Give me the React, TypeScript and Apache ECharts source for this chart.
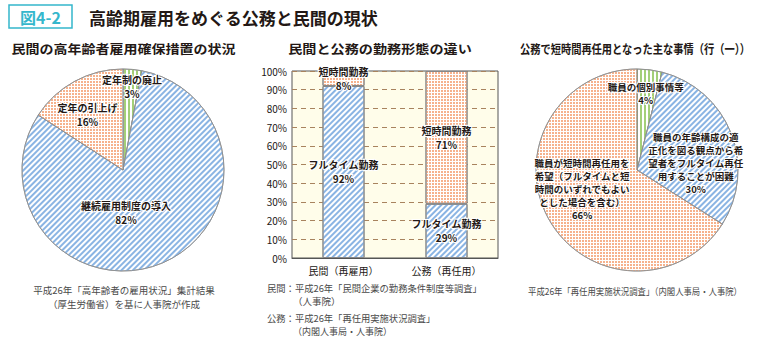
import React, { useEffect, useRef } from 'react';
import * as echarts from 'echarts';

// ---- data ----
const leftNames = ['定年制の廃止', '継続雇用制度の導入', '定年の引上げ'];
const leftValues = [3, 82, 16];

const barCategories = ['民間（再雇用）', '公務（再任用）'];
const fullTimeName = 'フルタイム勤務';
const shortTimeName = '短時間勤務';
const fullTimeValues = [92, 29];
const shortTimeValues = [8, 71];

const rightNames = [
  '職員の個別事情等',
  '職員の年齢構成の適\n正化を図る観点から希\n望者をフルタイム再任\n用することが困難',
  '職員が短時間再任用を\n希望（フルタイムと短\n時間のいずれでもよい\nとした場合を含む）',
];
const rightValues = [4, 30, 66];

const figNo = '図4-2';
const mainTitle = '高齢期雇用をめぐる公務と民間の現状';
const subTitles = ['民間の高年齢者雇用確保措置の状況', '民間と公務の勤務形態の違い', '公務で短時間再任用となった主な事情（行（一））'];
const leftNotes = ['平成26年「高年齢者の雇用状況」集計結果', '（厚生労働省）を基に人事院が作成'];
const midNotes = ['民間：平成26年「民間企業の勤務条件制度等調査」', '（人事院）', '公務：平成26年「再任用実施状況調査」', '（内閣人事局・人事院）'];
const rightNote = '平成26年「再任用実施状況調査」（内閣人事局・人事院）';

// ---- styles ----
const FONT = '"Noto Sans CJK JP", "Noto Sans", sans-serif';
const TEXT = '#231815';
const TEAL = '#35b7cc';
const blueDecal = { symbol: 'rect', symbolSize: 1, color: '#8ab4e3', dashArrayX: [1, 0], dashArrayY: [2, 2], rotation: -Math.PI / 4 };
const orangeDecal = { symbol: 'rect', symbolSize: 1, color: '#f6b28d', dashArrayX: [2, 1], dashArrayY: [2, 1], rotation: 0 };
const greenDecal = { symbol: 'rect', symbolSize: 1, color: '#a3cf78', dashArrayX: [2, 1.5], dashArrayY: [1, 0], rotation: 0 };

const leftDecals = [greenDecal, blueDecal, orangeDecal];
const rightDecals = [greenDecal, blueDecal, orangeDecal];
const leftOffsets = [[4, -30], [-18, -7], [-10, -8]];
const rightOffsets = [[2, -23], [9, 13], [-8, -7]];

const labelCommon = {
  fontFamily: FONT,
  fontSize: 10,
  fontWeight: 'bold',
  color: TEXT,
  textBorderColor: '#fff',
  textBorderWidth: 2,
};

function pieData(names: string[], values: number[], decals: any[]) {
  return names.map((n, i) => ({
    name: n,
    value: values[i],
    itemStyle: { color: '#fff', decal: decals[i] },
  }));
}

function subText(text: string, x: number, scaleX: number) {
  return {
    type: 'text',
    x,
    y: 49,
    scaleX,
    style: { text, fontFamily: FONT, fontSize: 12.5, fontWeight: 'bold', fill: TEXT, align: 'center', verticalAlign: 'middle' },
  };
}

function note(text: string, x: number, y: number, align: string, scaleX = 1) {
  return {
    type: 'text',
    x,
    y,
    scaleX,
    style: { text, fontFamily: FONT, fontSize: 9.5, fill: '#4a4a4a', align, verticalAlign: 'middle' },
  };
}

export default function App() {
  const ref = useRef<HTMLDivElement>(null);
  useEffect(() => {
    document.body.style.margin = '0';
    const chart = echarts.init(ref.current!, null, { renderer: 'svg' });
    const option: any = {
      animation: false,
      backgroundColor: '#fff',
      grid: {
        left: 292, right: 262, top: 71, bottom: 87,
        show: true, backgroundColor: '#fffdea', borderColor: '#555', borderWidth: 1,
      },
      xAxis: {
        type: 'category',
        data: barCategories,
        axisTick: { show: false },
        axisLine: { lineStyle: { color: '#555' } },
        axisLabel: { fontFamily: FONT, fontSize: 10, color: TEXT, margin: 7 },
      },
      yAxis: {
        type: 'value',
        min: 0, max: 100, interval: 10,
        axisLine: { show: false },
        axisTick: { show: false },
        axisLabel: { formatter: '{value}%', fontFamily: FONT, fontSize: 10, color: TEXT, margin: 5 },
        splitLine: { lineStyle: { color: '#a8835e', type: [5, 4], width: 1 } },
      },
      series: [
        {
          type: 'pie',
          center: [123, 170],
          radius: 101,
          startAngle: 90,
          clockwise: true,
          silent: true,
          data: pieData(leftNames, leftValues, leftDecals),
          itemStyle: { borderColor: '#8c8c8c', borderWidth: 0.8 },
          label: {
            position: 'inside',
            formatter: (p: any) => `${p.name}\n${p.value}%`,
            lineHeight: 14,
            ...labelCommon,
          },
          labelLayout: (p: any) => ({ dx: leftOffsets[p.dataIndex][0], dy: leftOffsets[p.dataIndex][1] }),
        },
        {
          type: 'bar',
          name: fullTimeName,
          stack: 'a',
          barWidth: 42,
          data: fullTimeValues,
          silent: true,
          itemStyle: { color: '#fff', borderColor: '#888', borderWidth: 1, decal: blueDecal },
          label: {
            show: true,
            position: 'inside',
            formatter: (p: any) => `${p.seriesName}\n${p.value}%`,
            lineHeight: 14,
            ...labelCommon,
          },
        },
        {
          type: 'bar',
          name: shortTimeName,
          stack: 'a',
          barWidth: 42,
          data: shortTimeValues,
          silent: true,
          itemStyle: { color: '#fff', borderColor: '#888', borderWidth: 1, decal: orangeDecal },
          label: {
            show: true,
            position: 'inside',
            formatter: (p: any) => `${p.seriesName}\n${p.value}%`,
            lineHeight: 13.5,
            ...labelCommon,
          },
        },
        {
          type: 'pie',
          center: [637, 170],
          radius: 101,
          startAngle: 90,
          clockwise: true,
          silent: true,
          data: pieData(rightNames, rightValues, rightDecals),
          itemStyle: { borderColor: '#8c8c8c', borderWidth: 0.8 },
          label: {
            position: 'inside',
            formatter: (p: any) => `${p.name}\n${p.value}%`,
            lineHeight: 13,
            ...labelCommon,
            fontSize: 9.5,
          },
          labelLayout: (p: any) => ({ dx: rightOffsets[p.dataIndex][0], dy: rightOffsets[p.dataIndex][1] }),
        },
      ],
      graphic: [
        { type: 'rect', shape: { x: 9, y: 5, width: 63, height: 23 }, style: { fill: 'none', stroke: TEAL, lineWidth: 1.5 } },
        { type: 'text', x: 40.5, y: 17, style: { text: figNo, fontFamily: FONT, fontSize: 16, fontWeight: 'bold', fill: TEAL, align: 'center', verticalAlign: 'middle' } },
        { type: 'text', x: 89, y: 17, style: { text: mainTitle, fontFamily: FONT, fontSize: 17, fontWeight: 'bold', fill: TEXT, align: 'left', verticalAlign: 'middle' } },
        subText(subTitles[0], 123.5, 1.12),
        subText(subTitles[1], 380, 1.13),
        subText(subTitles[2], 635, 0.82),
        note(leftNotes[0], 124, 290, 'center'),
        note(leftNotes[1], 124, 304, 'center'),
        note(midNotes[0], 267, 288, 'left', 0.98),
        note(midNotes[1], 293, 301, 'left'),
        note(midNotes[2], 267, 318, 'left', 0.98),
        note(midNotes[3], 293, 331, 'left', 0.95),
        note(rightNote, 635, 291, 'center', 0.88),
      ],
    };
    chart.setOption(option);
    return () => chart.dispose();
  }, []);
  return <div ref={ref} style={{ width: 760, height: 345 }} />;
}
